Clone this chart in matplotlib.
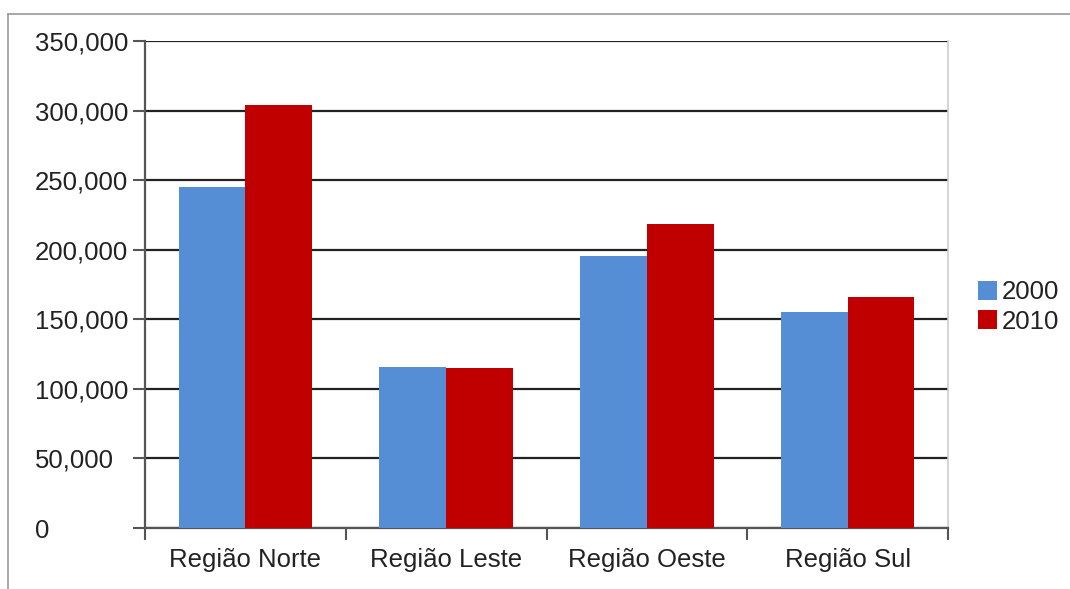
import matplotlib
matplotlib.use("Agg")
import matplotlib.pyplot as plt
from matplotlib.lines import Line2D
from matplotlib.ticker import FuncFormatter
import numpy as np

plt.rcParams['font.family'] = ['Liberation Sans', 'DejaVu Sans']

regions = ['Região Norte', 'Região Leste', 'Região Oeste', 'Região Sul']
pop_2000 = [245000, 116000, 195500, 155500]
pop_2010 = [304000, 115000, 218500, 166000]
years = ['2000', '2010']
colors = ['#558ED5', '#C00000']

fig = plt.figure(figsize=[10.7, 5.89], dpi=100)
ax = fig.add_axes([145 / 1070, 1 - 528 / 589, (948 - 145) / 1070, (528 - 41) / 589])

x = np.arange(len(regions))
w = 0.333
ax.bar(x - w / 2, pop_2000, w, color=colors[0], label=years[0], zorder=3)
ax.bar(x + w / 2, pop_2010, w, color=colors[1], label=years[1], zorder=3)

ax.set_xlim(-0.5, len(regions) - 0.5)
ax.set_ylim(0, 350000)
ax.set_yticks(np.arange(0, 350001, 50000))
ax.yaxis.set_major_formatter(FuncFormatter(lambda v, p: '{:,.0f}'.format(v)))
ax.grid(axis='y', color='#222222', linewidth=1.6, zorder=1)

ax.set_xticks(x)
ax.set_xticklabels(regions)
ax.set_xticks(np.arange(-0.5, len(regions), 1.0), minor=True)
ax.tick_params(axis='x', which='major', length=0, pad=14.5, labelsize=18.5, labelcolor='#222222')
ax.tick_params(axis='x', which='minor', length=8.6, width=1.5, color='#555555')
ax.tick_params(axis='y', length=8.6, width=1.5, color='#555555', pad=70.6,
               labelsize=18.5, labelcolor='#222222')
for lbl in ax.get_yticklabels():
    lbl.set_horizontalalignment('left')

for side in ['left', 'bottom']:
    ax.spines[side].set_color('#555555')
    ax.spines[side].set_linewidth(1.6)
ax.spines['top'].set_visible(False)
ax.spines['right'].set_color('#cccccc')
ax.spines['right'].set_linewidth(1.2)

ax.legend(loc='center left', bbox_to_anchor=(968 / 1070, 1 - 307 / 589),
          bbox_transform=fig.transFigure, frameon=False, fontsize=18.5,
          handlelength=0.72, handleheight=0.72, handletextpad=0.2,
          labelspacing=0.2, borderaxespad=0, labelcolor='#222222')

# outer frame (top and left edges)
fig.add_artist(Line2D([8 / 1070, 8 / 1070], [0, 1 - 14 / 589], transform=fig.transFigure,
                      color='#999999', linewidth=1.2))
fig.add_artist(Line2D([8 / 1070, 1], [1 - 14 / 589, 1 - 14 / 589], transform=fig.transFigure,
                      color='#999999', linewidth=1.2))

plt.savefig('out.png', dpi=100)
